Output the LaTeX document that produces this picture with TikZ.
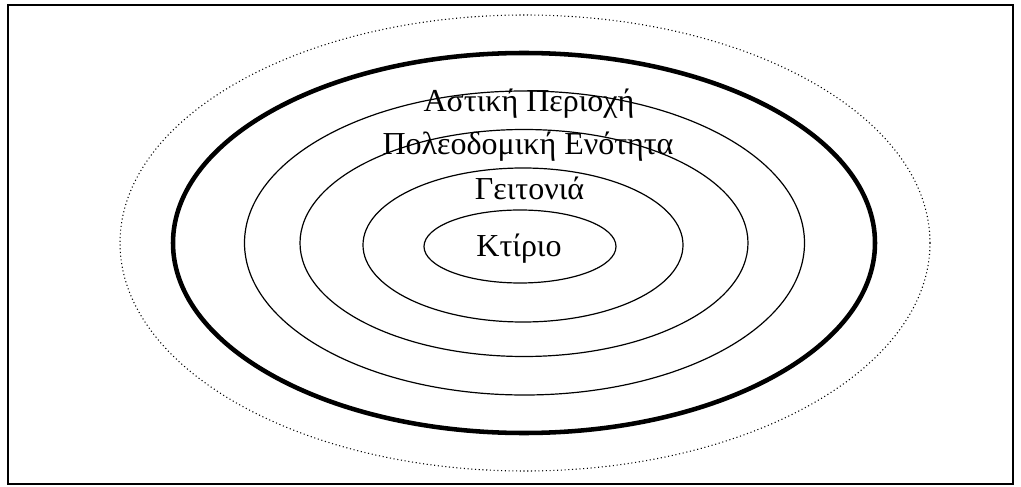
\documentclass[tikz,border=0pt]{standalone}
\usepackage{fontspec}
\setmainfont{Liberation Serif}
\usepackage{tikz}

\begin{document}
\begin{tikzpicture}[
  x=0.75pt,y=0.75pt,
  frame/.style={draw,line width=1.5pt},
  outerring/.style={draw,dotted,line width=0.8pt},
  mainring/.style={draw,line width=3.4pt},
  ring/.style={draw,line width=0.9pt},
  lbl/.style={font=\fontsize{24}{28}\selectfont,anchor=base,inner sep=0pt}
]
\useasboundingbox (0,0) rectangle (1021,486);
\draw[frame] (8,2) rectangle (1013,481);

\draw[outerring] (525,243) ellipse [x radius=405,y radius=228];
\draw[mainring] (524,243) ellipse [x radius=351,y radius=190];
\draw[ring] (524.5,243) ellipse [x radius=280,y radius=152];
\draw[ring] (524,243) ellipse [x radius=224,y radius=113.5];
\draw[ring] (523,241) ellipse [x radius=160,y radius=77];
\draw[ring] (520,239.5) ellipse [x radius=96,y radius=36.5];

\node[lbl] (city) at (529,374) {Αστική Περιοχή};
\node[lbl] (unit) at (528,331) {Πολεοδομική Ενότητα};
\node[lbl] (hood) at (529.5,286) {Γειτονιά};
\node[lbl] (bldg) at (519,229) {Κτίριο};
\end{tikzpicture}
\end{document}
